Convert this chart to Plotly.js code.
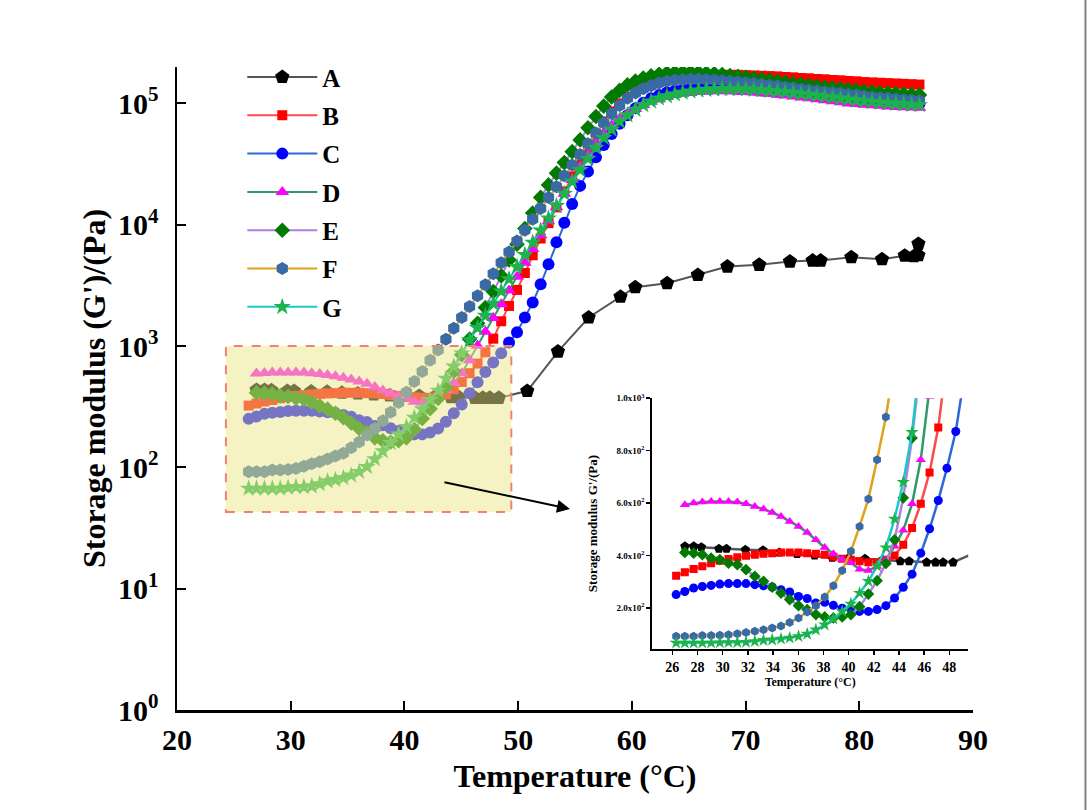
<!DOCTYPE html>
<html>
<head>
<meta charset="utf-8">
<script src="https://cdn.plot.ly/plotly-3.0.1.min.js"></script>
<style>html,body{margin:0;padding:0;background:#fff;}#chart{width:1087px;height:810px;}</style>
</head>
<body>
<div id="chart"></div>
<script>
// Temperature grid (°C) shared by series B-G
const T = [
26.30, 26.99, 27.69, 28.38, 29.08, 29.77, 30.46, 31.16, 31.85, 32.55,
33.24, 33.93, 34.63, 35.32, 36.02, 36.71, 37.40, 38.10, 38.79, 39.49,
40.18, 40.87, 41.57, 42.26, 42.96, 43.65, 44.34, 45.04, 45.73, 46.43,
47.12, 47.81, 48.51, 49.20, 49.90, 50.59, 51.28, 51.98, 52.67, 53.37,
54.06, 54.75, 55.45, 56.14, 56.84, 57.53, 58.22, 58.92, 59.61, 60.31,
61.00, 61.69, 62.39, 63.08, 63.78, 64.47, 65.16, 65.86, 66.55, 67.25,
67.94, 68.63, 69.33, 70.02, 70.72, 71.41, 72.10, 72.80, 73.49, 74.19,
74.88, 75.57, 76.27, 76.96, 77.66, 78.35, 79.04, 79.74, 80.43, 81.13,
81.82, 82.51, 83.21, 83.90, 84.60, 85.29];

// Series A has its own temperatures
const A_T = [27.0, 27.7, 28.3, 29.7, 30.3, 31.8, 33.2, 34.5, 35.9, 37.3, 38.7, 40.0, 41.3, 42.7,
  44.1, 44.8, 46.2, 46.9, 47.5, 48.3, 50.8, 53.5, 56.2, 59.0, 60.3, 63.1, 65.8, 68.4, 71.2,
  73.9, 75.9, 76.6, 79.3, 82.0, 84.0, 84.8, 85.2, 85.2];
const A_V = [435, 435, 432, 426, 426, 422, 420, 412, 406, 400, 392, 390, 388, 384,
  378, 378, 374, 374, 374, 374, 426, 900, 1720, 2550, 3050, 3290, 3850, 4520, 4670,
  4970, 5060, 5060, 5390, 5190, 5560, 5500, 5600, 6950];

const B_V = [
323, 336, 349, 359, 371, 380, 387, 393, 399, 403,
407, 409, 412, 412, 412, 409, 407, 403, 395, 388,
384, 378, 374, 374, 384, 400, 441, 505, 597, 717,
888, 1150, 1600, 2140, 2900, 4000, 5600, 7700, 10300, 13900,
18800, 25000, 33000, 43000, 56000, 71000, 86000, 100000, 113000, 125000,
135000, 143000, 150000, 155000, 159000, 163000, 166000, 168000, 170000, 171000,
172000, 172000, 172000, 171000, 170000, 169000, 168000, 167000, 165000, 164000,
162000, 161000, 159000, 158000, 156000, 155000, 153000, 152000, 150000, 149000,
148000, 147000, 146000, 145000, 144000, 143000];

const C_V = [
251, 263, 276, 282, 286, 291, 293, 293, 293, 289,
285, 280, 270, 261, 244, 236, 219, 222, 210, 199,
196, 187, 187, 194, 209, 238, 279, 329, 409, 502,
610, 733, 873, 1070, 1300, 1720, 2280, 3230, 4720, 7180,
10400, 14800, 20900, 27500, 36000, 45500, 56000, 68000, 80000, 91000,
101000, 110000, 117000, 123000, 127000, 130000, 132000, 133000, 134000, 134000,
134000, 133000, 132000, 131000, 130000, 128000, 127000, 125000, 124000, 122000,
120000, 118000, 117000, 115000, 113000, 111000, 110000, 108000, 106000, 105000,
104000, 103000, 102000, 101000, 100000, 99000];

const D_V = [
null, 594, 600, 604, 606, 606, 606, 604, 597, 587,
577, 564, 549, 530, 511, 488, 460, 431, 407, 385,
372, 348, 343, 358, 384, 435, 496, 597, 765, 1006,
1310, 1700, 2210, 2870, 3730, 4850, 6300, 8200, 10700, 13900,
18000, 23400, 30400, 38500, 47500, 57000, 66000, 75000, 83000, 90000,
97000, 103000, 108000, 113000, 117000, 120000, 122000, 124000, 125000, 126000,
126000, 126000, 125000, 124000, 123000, 121000, 120000, 118000, 116000, 114000,
112000, 110000, 108000, 106000, 104000, 102000, 100000, 99000, 97500, 96500,
95500, 94500, 93500, 93000, 92500, 92000];

const E_V = [
null, 412, 409, 403, 390, 384, 371, 365, 346, 321,
302, 279, 257, 232, 209, 194, 175, 166, 162, 166,
175, 205, 253, 304, 370, 460, 620, 848, 1140, 1540,
2080, 2810, 3790, 5120, 6900, 9300, 12500, 16800, 21300, 26600,
32500, 40000, 50000, 63000, 78000, 95000, 113000, 128000, 142000, 153000,
162000, 169000, 174000, 178000, 180000, 181000, 181000, 180000, 178000, 176000,
173000, 170000, 167000, 164000, 161000, 158000, 155000, 152000, 149000, 146000,
144000, 141000, 139000, 136000, 134000, 132000, 130000, 128000, 126000, 124500,
123000, 121500, 120500, 119500, 118500, 117500];

const F_V = [
92, 92, 92, 95, 95, 96, 98, 102, 107, 111,
117, 124, 131, 145, 162, 185, 209, 242, 285, 343,
416, 511, 616, 765, 928, 1140, 1400, 1720, 2120, 2600,
3200, 3940, 4850, 5960, 7330, 9000, 11100, 13600, 16800, 20600,
25300, 31000, 38000, 46500, 57000, 69000, 82000, 96000, 110000, 122000,
132000, 140000, 147000, 152000, 155000, 157000, 158000, 158000, 157000, 156000,
154000, 152000, 150000, 148000, 146000, 144000, 141000, 139000, 136000, 134000,
131000, 129000, 127000, 125000, 123000, 121000, 119000, 117000, 115000, 113000,
111500, 110000, 108500, 107000, 106000, 105000];

const G_V = [
67, 67, 67, 67, 67, 68, 69, 69, 70, 73,
77, 79, 82, 86, 92, 101, 117, 136, 159, 187,
216, 257, 302, 360, 430, 540, 680, 870, 1120, 1410,
1780, 2240, 2830, 3560, 4490, 5660, 7130, 9000, 11300, 14300,
18000, 22700, 28300, 35000, 43000, 52000, 61000, 71000, 80000, 89000,
97000, 104000, 110000, 115000, 119000, 123000, 126000, 128000, 130000, 131000,
132000, 132000, 132000, 131000, 130000, 129000, 127000, 126000, 124000, 122000,
120000, 118000, 116000, 114000, 112000, 110000, 108000, 106000, 104500, 103000,
101500, 100500, 99500, 98500, 97500, 97000];

const names = ['A', 'B', 'C', 'D', 'E', 'F', 'G'];
const xs = [A_T, T, T, T, T, T, T];
const ys = [A_V, B_V, C_V, D_V, E_V, F_V, G_V];

// styles
const markerColors = ['#000000', '#ff0000', '#0000ff', '#ff00ff', '#007a00', '#3a6aa6', '#1db34a'];
const lineColors = ['#555555', '#ff4a4a', '#2a6ad8', '#2f9a68', '#b07ee0', '#e0a21a', '#1cc8c8'];
const symbols = ['pentagon', 'square', 'circle', 'triangle-up', 'diamond', 'hexagon', 'star'];
const mainSizes = [15, 10, 12, 12, 12, 13, 13];
const insetSizes = [10, 8, 9, 9, 9, 9, 10];

const FONT = 'Liberation Serif, Times New Roman, serif';
const traces = [];
for (let i = 0; i < names.length; i++) {
  traces.push({
    type: 'scatter', mode: 'lines+markers', name: names[i],
    x: xs[i], y: ys[i], xaxis: 'x', yaxis: 'y',
    legendgroup: 'g' + i,
    line: {color: lineColors[i], width: 2},
    marker: {symbol: symbols[i], size: mainSizes[i], color: markerColors[i], line: {width: 0}},
    showlegend: true
  });
}
for (let i = 0; i < names.length; i++) {
  traces.push({
    type: 'scatter', mode: 'lines+markers', name: names[i] + ' (inset)',
    x: xs[i], y: ys[i], xaxis: 'x2', yaxis: 'y2',
    line: {color: lineColors[i], width: 2.5},
    marker: {symbol: symbols[i], size: insetSizes[i], color: markerColors[i], line: {width: 0}},
    showlegend: false
  });
}

const mainYTicks = [1, 10, 100, 1000, 10000, 100000];
const mainYText = ['10<sup>0</sup>', '10<sup>1</sup>', '10<sup>2</sup>', '10<sup>3</sup>', '10<sup>4</sup>', '10<sup>5</sup>'];
const mainXTicks = [20, 30, 40, 50, 60, 70, 80, 90];
const insetXTicks = [26, 28, 30, 32, 34, 36, 38, 40, 42, 44, 46, 48];
const insetYTicks = [200, 400, 600, 800, 1000];
const insetYText = ['2.0x10<sup>2</sup>', '4.0x10<sup>2</sup>', '6.0x10<sup>2</sup>', '8.0x10<sup>2</sup>', '1.0x10<sup>3</sup>'];

const layout = {
  width: 1087, height: 810,
  margin: {l: 177, r: 114, t: 67, b: 100},
  paper_bgcolor: '#ffffff', plot_bgcolor: 'rgba(0,0,0,0)',
  font: {family: FONT, color: '#000'},
  showlegend: true,
  legend: {
    x: 0.082, y: 1.0198, xanchor: 'left', yanchor: 'top',
    bgcolor: 'rgba(0,0,0,0)', borderwidth: 0,
    font: {family: FONT, size: 25, weight: 'bold', color: '#000'},
    traceorder: 'grouped', tracegroupgap: 2.8, itemwidth: 70
  },
  xaxis: {
    domain: [0, 1], anchor: 'y', range: [20, 90],
    tickvals: mainXTicks, ticks: 'inside', ticklen: 9, tickwidth: 2, tickcolor: '#000',
    showline: true, linewidth: 2.5, linecolor: '#000', mirror: false,
    showgrid: false, zeroline: false, ticklabelstandoff: 1,
    tickfont: {family: FONT, size: 30, weight: 'bold'},
    title: {text: 'Temperature (°C)', font: {family: FONT, size: 32, weight: 'bold'}, standoff: 10}
  },
  yaxis: {
    domain: [0, 1], anchor: 'x', type: 'log', range: [0, 5.3],
    tickvals: mainYTicks, ticktext: mainYText,
    ticks: 'inside', ticklen: 9, tickwidth: 2, tickcolor: '#000',
    showline: true, linewidth: 2.5, linecolor: '#000',
    showgrid: false, zeroline: false, ticklabelstandoff: 10,
    tickfont: {family: FONT, size: 30, weight: 'bold'},
    title: {text: "Storage modulus (G')/(Pa)", font: {family: FONT, size: 32, weight: 'bold'}, standoff: 3}
  },
  xaxis2: {
    domain: [0.597, 0.994], anchor: 'y2', range: [24.4, 49.5],
    tickvals: insetXTicks, ticks: 'outside', ticklen: 4, tickwidth: 1.5, tickcolor: '#000',
    showline: true, linewidth: 2, linecolor: '#000',
    showgrid: false, zeroline: false,
    tickfont: {family: FONT, size: 14, weight: 'bold'},
    title: {text: 'Temperature (°C)', font: {family: FONT, size: 12, weight: 'bold'}, standoff: 2}
  },
  yaxis2: {
    domain: [0.095, 0.485], anchor: 'x2', range: [44, 1000],
    tickvals: insetYTicks, ticktext: insetYText,
    ticks: 'outside', ticklen: 4, tickwidth: 1.5, tickcolor: '#000',
    showline: true, linewidth: 2, linecolor: '#000',
    showgrid: false, zeroline: false,
    tickfont: {family: FONT, size: 9, weight: 'bold'},
    title: {text: "Storage modulus G'/(Pa)", font: {family: FONT, size: 13, weight: 'bold'}, standoff: 16}
  },
  shapes: [
    {type: 'rect', xref: 'x', yref: 'paper', x0: 24.3, x1: 49.4, y0: 0.308, y1: 0.566,
     fillcolor: 'rgb(235,231,135)', opacity: 0.5, line: {width: 0}, layer: 'above'},
    {type: 'rect', xref: 'x', yref: 'paper', x0: 24.3, x1: 49.4, y0: 0.308, y1: 0.566,
     fillcolor: 'rgba(0,0,0,0)', line: {color: '#ef8273', width: 2, dash: 'dash'}, layer: 'above'},
    {type: 'line', xref: 'paper', yref: 'paper', x0: 1.1413, x1: 1.1413, y0: -0.16, y1: 1.11,
     line: {color: '#808080', width: 2}}
  ],
  annotations: [
    {xref: 'paper', yref: 'paper', x: 0.4937, y: 0.3126, ax: -127, ay: -27, text: '',
     showarrow: true, arrowhead: 2, arrowsize: 1.3, arrowwidth: 2, arrowcolor: '#000'}
  ]
};

Plotly.newPlot('chart', traces, layout, {displayModeBar: false, staticPlot: true});
</script>
</body>
</html>
